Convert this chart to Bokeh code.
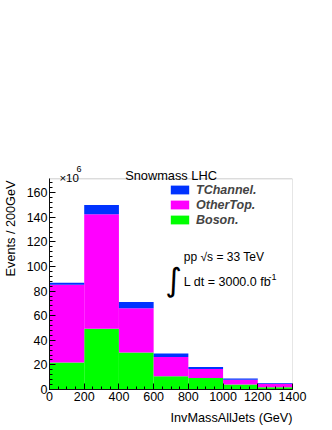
import math
from bokeh.plotting import figure
from bokeh.models import (Label, Legend, LegendItem, FixedTicker, ColumnDataSource,
                          BoxAnnotation, Title)
from bokeh.embed import file_html
from bokeh.resources import INLINE

# ---- data (values in units of 1e6 events / 200 GeV) ----
bin_centers = [100, 300, 500, 700, 900, 1100, 1300]
bin_width = 200
boson = [22.0, 49.5, 30.0, 10.8, 9.3, 4.1, 1.9]
othertop = [63.2, 93.0, 36.2, 15.7, 7.4, 3.8, 2.8]
tchannel = [1.7, 7.5, 5.0, 2.7, 1.6, 1.1, 0.5]
series_names = ["Boson.", "OtherTop.", "TChannel."]
series_colors = ["#00ff00", "#ff00ff", "#0033ff"]
x_ticks = [0, 200, 400, 600, 800, 1000, 1200, 1400]
y_ticks = [0, 20, 40, 60, 80, 100, 120, 140, 160]
x_minor = list(range(0, 1401, 50))
y_minor = list(range(0, 172, 4))

X_MIN, X_MAX = 0, 1400
Y_MIN, Y_MAX = 0, 171.4      # histogram frame
Y_TOP = 186.3                # extra room above the frame for the title texts

FONT = "Liberation Sans"

src = ColumnDataSource(dict(x=bin_centers, boson=boson, othertop=othertop, tchannel=tchannel))

p = figure(width=332, height=430, x_range=(X_MIN, X_MAX), y_range=(Y_MIN, Y_TOP),
           output_backend="svg", toolbar_location=None,
           min_border_left=48, min_border_right=40, min_border_top=160, min_border_bottom=41)

rs = p.vbar_stack(["boson", "othertop", "tchannel"], x="x", width=bin_width,
                  color=series_colors, line_color=None, source=src)

p.xgrid.grid_line_color = None
p.ygrid.grid_line_color = None
p.outline_line_color = None
p.background_fill_color = "white"
p.border_fill_color = "white"

# visible frame box
p.add_layout(BoxAnnotation(left=X_MIN, right=X_MAX, bottom=Y_MIN, top=Y_MAX,
                           fill_color=None, fill_alpha=0, line_color="#555555", line_width=1))

for ax, ticks, minor in ((p.xaxis[0], x_ticks, x_minor), (p.yaxis[0], y_ticks, y_minor)):
    ax.ticker = FixedTicker(ticks=ticks, minor_ticks=minor)
    ax.major_tick_in = 6
    ax.major_tick_out = 0
    ax.minor_tick_in = 3
    ax.minor_tick_out = 0
    ax.axis_line_color = "black"
    ax.major_tick_line_color = "black"
    ax.minor_tick_line_color = "black"
    ax.major_label_text_font = FONT
    ax.major_label_text_font_size = "12.5px"
    ax.major_label_text_color = "black"
    ax.major_label_standoff = 2
p.yaxis[0].bounds = (Y_MIN, Y_MAX)

# axis titles as side-panel titles
p.add_layout(Title(text="InvMassAllJets (GeV)", align="right", vertical_align="bottom",
                   standoff=10, text_font=FONT, text_font_size="12.7px",
                   text_font_style="normal", text_color="black"), "below")
p.add_layout(Title(text="Events / 200GeV", align="right", vertical_align="top",
                   standoff=7, offset=20, text_font=FONT, text_font_size="12.7px",
                   text_font_style="normal", text_color="black"), "left")

# legend
items = [LegendItem(label=series_names[2], renderers=[rs[2]]),
         LegendItem(label=series_names[1], renderers=[rs[1]]),
         LegendItem(label=series_names[0], renderers=[rs[0]])]
legend = Legend(items=items, location=(119, 162), border_line_color=None,
                background_fill_alpha=0, label_text_font=FONT,
                label_text_font_style="bold italic", label_text_font_size="12.5px",
                glyph_width=23, glyph_height=11, label_standoff=5, spacing=0,
                padding=0, margin=0, label_height=15)
p.add_layout(legend)

def lab(x, y, text, size="12.7px", align="left", baseline="alphabetic", font=FONT):
    p.add_layout(Label(x=x, y=y, text=text, text_font=font, text_font_size=size,
                       text_align=align, text_baseline=baseline,
                       text_color="black"))

# title and exponent (inside the extended frame area)
lab(700, 173.7, "Snowmass LHC", size="12.8px", align="center")
lab(57, 172.2, "×10", size="11.5px")
lab(155, 179.2, "6", size="9px")
# annotation text
lab(774, 107.6, "pp √s = 33 TeV", size="12px")
lab(774, 87.3, "L dt = 3000.0 fb", size="12.5px")
lab(1262, 91.5, "-1", size="9px")
lab(667, 89, "∫", size="32px", font="DejaVu Sans", baseline="middle")

open("out.html", "w").write(file_html(p, INLINE))
